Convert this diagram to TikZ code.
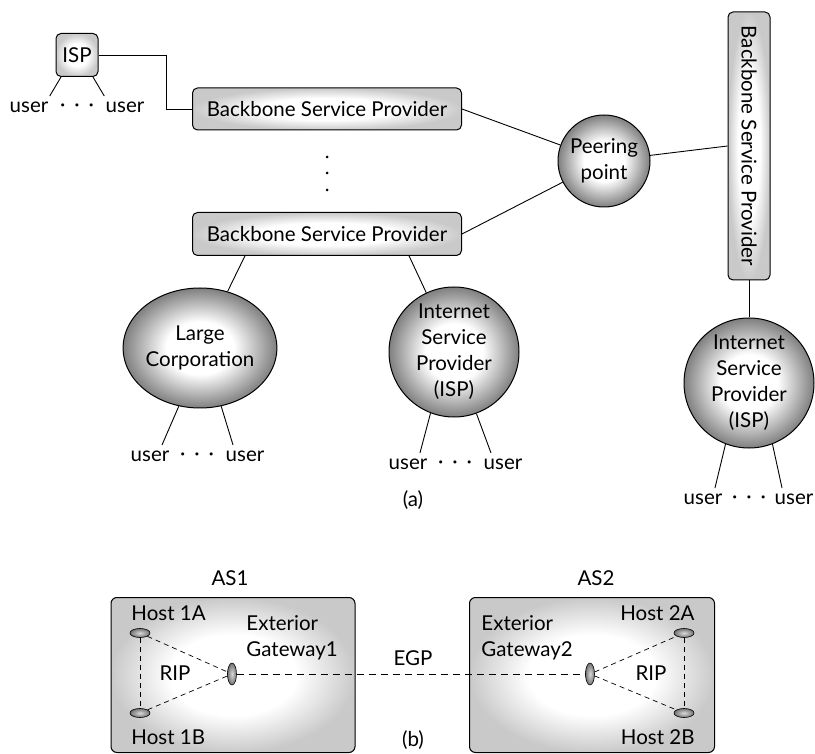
\documentclass[tikz,border=0pt]{standalone}
\usepackage{fontspec}
\setmainfont{Lato}
\usepackage{tikz}
\usetikzlibrary{shapes.geometric}

\pgfdeclareradialshading{ballshade}{\pgfpointorigin}{color(0bp)=(white); color(11bp)=(white); color(25bp)=(black!50); color(50bp)=(black!50)}
\pgfdeclareradialshading{boxshade}{\pgfpointorigin}{color(0bp)=(white); color(13bp)=(white); color(25bp)=(black!21); color(50bp)=(black!21)}
\pgfdeclareradialshading{hostshade}{\pgfpointorigin}{color(0bp)=(black!15); color(25bp)=(black!55); color(50bp)=(black!55)}

\begin{document}
\begin{tikzpicture}[x=1pt,y=-1pt,
        font=\fontsize{20.5}{26}\selectfont,
        line width=0.9pt,
        every node/.style={inner sep=0pt},
        provider/.style={draw, line width=1pt, rounded corners=5pt, shade, shading=boxshade},
        cloud/.style={draw, line width=1pt, circle, shade, shading=ballshade, align=center},
        asbox/.style={draw, line width=1pt, rounded corners=6pt, shade, shading=boxshade},
        hostdot/.style={draw, line width=0.6pt, ellipse, shade, shading=hostshade},
        userlbl/.style={inner xsep=2pt, inner ysep=7pt, text height=9pt, text depth=0pt},
        ripline/.style={dash pattern=on 5pt off 4pt, line width=0.7pt},
        egpline/.style={dash pattern=on 7pt off 5pt, line width=0.9pt}]
        \useasboundingbox (0,0) rectangle (815,754);

        %Shape: Rounded Rect [ISP]
        \node [provider, minimum width=42, minimum height=43] (ispsmall) at (77,55) {ISP};
        % Text Node
        \node [userlbl] (ispsmall-u1) at (29,108) {user};
        \node (ispsmall-dots) at (77,108) {·\hspace{9pt}·\hspace{9pt}·};
        \node [userlbl] (ispsmall-u2) at (125,108) {user};

        %Shape: Rounded Rect [backbones]
        \node [provider, minimum width=269, minimum height=42] (bsp1) at (327,109) {Backbone Service Provider};
        \node [provider, minimum width=269, minimum height=43] (bsp2) at (327,234) {Backbone Service Provider};
        \node [provider, rotate=-90, minimum width=268, minimum height=42] (bspv) at (749,146) {Backbone Service Provider};
        \foreach \y in {157,173,190}
            \fill (327,\y) circle (1.5);

        %Shape: Circle [peering]
        \node [cloud, minimum size=92] (peer) at (604,161) {Peering\\point};

        %Shape: Ellipse [corporation]
        \node [cloud, ellipse, minimum width=140, minimum height=120] (largec) at (200,348) {Large\\Corporation};
        %Shape: Circle [ISPs]
        \node [cloud, minimum size=130] (ispM) at (454,352) {Internet\\Service\\Provider\\(ISP)};
        \node [cloud, minimum size=130] (ispR) at (749,383) {Internet\\Service\\Provider\\(ISP)};

        % Text Node
        \node [userlbl] (largec-u1) at (150,457) {user};
        \node (largec-dots) at (197,457) {·\hspace{9pt}·\hspace{9pt}·};
        \node [userlbl] (largec-u2) at (245,457) {user};
        \node [userlbl] (ispM-u1) at (408,465) {user};
        \node (ispM-dots) at (455,465) {·\hspace{9pt}·\hspace{9pt}·};
        \node [userlbl] (ispM-u2) at (503,465) {user};
        \node [userlbl] (ispR-u1) at (703,500) {user};
        \node (ispR-dots) at (749,500) {·\hspace{9pt}·\hspace{9pt}·};
        \node [userlbl] (ispR-u2) at (794,500) {user};
        \node (cap-a) at (413,500) {(a)};

        %Straight Lines
        \draw (ispsmall.east) -- ++(68,0) |- (bsp1.west);
        \draw (ispsmall.234) -- (ispsmall-u1.30);
        \draw (ispsmall.-54) -- (ispsmall-u2.150);
        \draw (bsp1.east) -- (peer);
        \draw (bsp2.east) -- (peer);
        \draw (peer) -- (bspv.south);
        \draw (bspv.east) -- (ispR);
        \draw (bsp2.195) -- (largec);
        \draw (bsp2.-15) -- (ispM);
        \draw (largec.250) -- (largec-u1.45);
        \draw (largec.290) -- (largec-u2.135);
        \draw (ispM.249) -- (ispM-u1.45);
        \draw (ispM.290) -- (ispM-u2.135);
        \draw (ispR.249) -- (ispR-u1.45);
        \draw (ispR.291) -- (ispR-u2.135);

        %Shape: Rounded Rect [autonomous systems]
        \node [asbox, minimum width=244, minimum height=155] (as1) at (233,675) {};
        \node [asbox, minimum width=245, minimum height=155] (as2) at (592,675) {};
        % Text Node
        \node (as1-lbl) at (230,578) {AS1};
        \node (as2-lbl) at (596,578) {AS2};

        %Shape: Ellipse [hosts and gateways]
        \node [hostdot, minimum width=20, minimum height=9] (h1a) at (140,633) {};
        \node [hostdot, minimum width=20, minimum height=9] (h1b) at (140,713) {};
        \node [hostdot, minimum width=9, minimum height=22] (gw1) at (232,674) {};
        \node [hostdot, minimum width=9, minimum height=22] (gw2) at (590,674) {};
        \node [hostdot, minimum width=20, minimum height=9] (h2a) at (684,633) {};
        \node [hostdot, minimum width=20, minimum height=9] (h2b) at (684,713) {};

        % Text Node
        \node [anchor=west] (h1a-txt) at (131,613) {Host 1A};
        \node [anchor=west] (h1b-txt) at (131,737) {Host 1B};
        \node [anchor=east] (h2a-txt) at (695,613) {Host 2A};
        \node [anchor=east] (h2b-txt) at (695,737) {Host 2B};
        \node [anchor=west, align=left] (gw1-txt) at (246,638) {Exterior\\Gateway1};
        \node [anchor=west, align=left] (gw2-txt) at (481,638) {Exterior\\Gateway2};
        \node (rip1) at (175,673) {RIP};
        \node (rip2) at (651,673) {RIP};
        \node (egp) at (413,658) {EGP};
        \node (cap-b) at (413,740) {(b)};

        %Dashed Lines
        \draw [ripline] (h1a) -- (h1b);
        \draw [ripline] (h1a) -- (gw1);
        \draw [ripline] (h1b) -- (gw1);
        \draw [egpline] (gw1) -- (gw2);
        \draw [ripline] (gw2) -- (h2a);
        \draw [ripline] (gw2) -- (h2b);
        \draw [ripline] (h2a) -- (h2b);
    \end{tikzpicture}
\end{document}
